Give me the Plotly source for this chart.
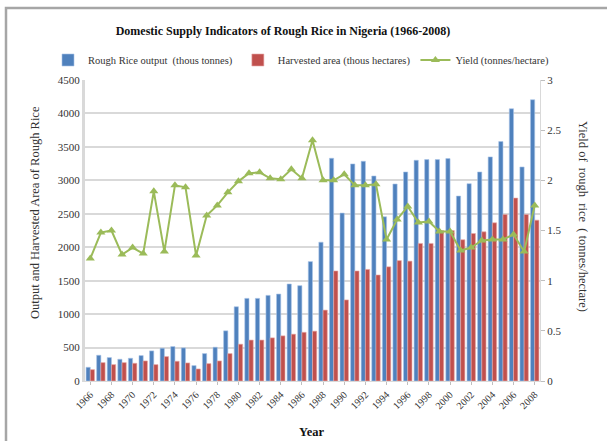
import plotly.graph_objects as go

years = list(range(1966, 2009))
output = [205, 385, 350, 325, 340, 380, 450, 490, 515, 495, 230, 410, 505, 750,
          1110, 1235, 1235, 1280, 1300, 1450, 1425, 1785, 2075, 3330, 2510, 3245,
          3285, 3065, 2455, 2945, 3125, 3300, 3310, 3310, 3325, 2765, 2950, 3125,
          3350, 3580, 4070, 3200, 4205]
area = [170, 275, 245, 275, 265, 300, 245, 365, 295, 270, 180, 260, 300, 410,
        550, 612, 612, 645, 675, 700, 728, 745, 1060, 1645, 1212, 1645, 1668,
        1585, 1707, 1800, 1792, 2057, 2057, 2250, 2250, 2112, 2205, 2230, 2365,
        2490, 2735, 2490, 2405]
yield_ = [1.22, 1.48, 1.50, 1.26, 1.33, 1.27, 1.89, 1.29, 1.95, 1.93, 1.25, 1.65,
          1.75, 1.88, 1.99, 2.07, 2.08, 2.02, 2.01, 2.11, 2.02, 2.40, 2.00, 2.00,
          2.06, 1.95, 1.95, 1.96, 1.41, 1.61, 1.74, 1.58, 1.59, 1.49, 1.49, 1.30,
          1.33, 1.40, 1.41, 1.41, 1.46, 1.29, 1.75]
tick_years = list(range(1966, 2009, 2))

SERIF = "Liberation Serif, Times New Roman, serif"

fig = go.Figure()
fig.add_trace(go.Bar(x=years, y=output, name="Rough Rice output  (thous tonnes)",
                     marker=dict(color="#4F81BD", line=dict(color="#A9C4E8", width=0.6))))
fig.add_trace(go.Bar(x=years, y=area, name="Harvested area (thous hectares)",
                     marker=dict(color="#C0504D", line=dict(color="#E8A9A8", width=0.6))))
fig.add_trace(go.Scatter(x=years, y=yield_, name="Yield (tonnes/hectare)", yaxis="y2",
                         mode="lines+markers",
                         line=dict(color="#9BBB59", width=2),
                         marker=dict(symbol="triangle-up", size=8, color="#9BBB59")))

# plot area in pixels: x 85..540, y 80..381
L, R, T, B = 85, 540, 80, 381
W, H = R - L, B - T
def px(x):
    return (x - L) / W
def py(y):
    return (B - y) / H

fig.update_layout(
    width=607, height=441,
    margin=dict(l=L, r=607 - R, t=T, b=441 - B, autoexpand=False),
    paper_bgcolor="white", plot_bgcolor="white",
    font=dict(family=SERIF, size=11, color="#333333"),
    barmode="group", bargap=0.2, bargroupgap=0.0,
    title=dict(text="<b>Domestic Supply Indicators of Rough Rice in Nigeria (1966-2008)</b>",
               x=px(283), xref="paper", xanchor="center",
               y=1 - 31 / 441, yref="container", yanchor="middle",
               font=dict(family=SERIF, size=12, color="#111111")),
    legend=dict(orientation="h", x=px(48), xanchor="left", y=py(60), yanchor="middle",
                font=dict(family=SERIF, size=10.5, color="#333333"),
                bgcolor="rgba(0,0,0,0)", itemwidth=30, tracegroupgap=0),
    xaxis=dict(range=[1965.5, 2008.5], tickmode="array", tickvals=tick_years,
               ticktext=[str(y) for y in tick_years], tickangle=-45,
               tickfont=dict(family=SERIF, size=10, color="#333333"),
               showgrid=False, zeroline=False, showline=True, linecolor="#D9D9D9",
               linewidth=1, ticks="outside", ticklen=3, tickcolor="#BFBFBF"),
    yaxis=dict(range=[0, 4500], dtick=500, showgrid=True, gridcolor="#D9D9D9",
               gridwidth=1.5, zeroline=False, showline=True, linecolor="#D9D9D9",
               linewidth=3, tickfont=dict(family=SERIF, size=11, color="#333333"),
               ticks=""),
    yaxis2=dict(range=[0, 3], dtick=0.5, overlaying="y", side="right", showgrid=False,
                zeroline=False, showline=True, linecolor="#D9D9D9", linewidth=1,
                ticks="outside", ticklen=4, tickcolor="#BFBFBF",
                tickfont=dict(family=SERIF, size=11, color="#333333")),
    annotations=[
        dict(text="Output and Harvested Area of Rough Rice", x=px(35), y=py(213),
             xref="paper", yref="paper", showarrow=False, textangle=-90,
             xanchor="center", yanchor="middle",
             font=dict(family=SERIF, size=12.5, color="#333333")),
        dict(text="Yield of  rough  rice  ( tonnes/hectare)", x=px(583), y=py(216),
             xref="paper", yref="paper", showarrow=False, textangle=90,
             xanchor="center", yanchor="middle",
             font=dict(family=SERIF, size=12.5, color="#333333")),
        dict(text="<b>Year</b>", x=px(311), y=py(432), xref="paper", yref="paper",
             showarrow=False, xanchor="center", yanchor="middle",
             font=dict(family=SERIF, size=12.5, color="#111111")),
    ],
    shapes=[
        dict(type="rect", xref="paper", yref="paper", x0=px(6), x1=px(640),
             y0=py(8), y1=py(470), line=dict(color="#A6A6A6", width=2.5),
             fillcolor="rgba(0,0,0,0)", layer="below"),
    ],
)

fig.write_html("out.html", config={"displayModeBar": False},
               post_script="document.body.style.margin='0';document.body.style.overflow='hidden';")
